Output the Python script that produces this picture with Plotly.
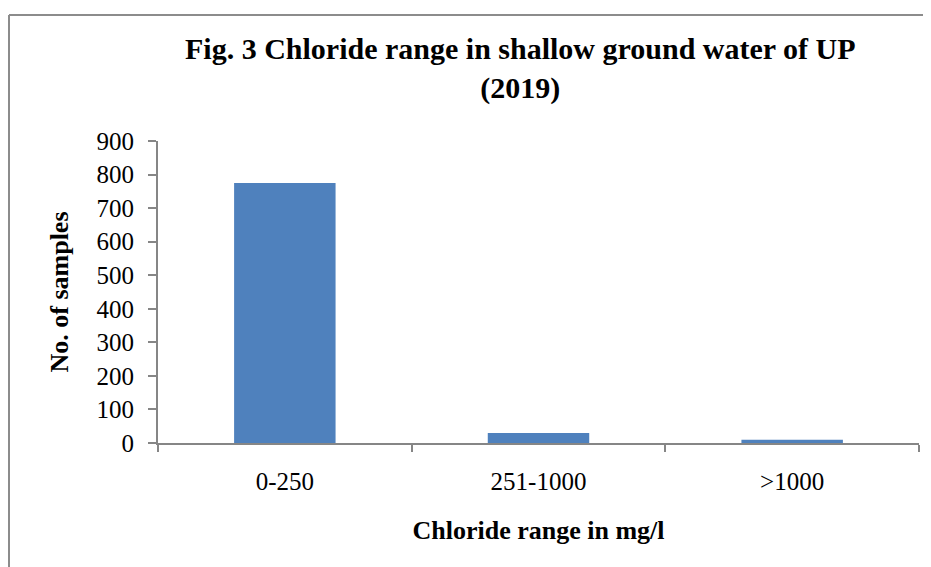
import plotly.graph_objects as go

# data
ranges = ["0-250", "251-1000", ">1000"]
samples = [775, 30, 10]
title_lines = ["Fig. 3 Chloride range in shallow ground water of UP", "(2019)"]

# page body has an 8px margin, so the figure is a bit smaller than the window
W, H = 923, 559
ml, mr, mt, mb = 150, 12, 133, 124
pw = W - ml - mr
ph = H - mt - mb

def px_x(x):
    return (x - ml) / pw

def px_y(y):
    return (H - mb - y) / ph

serif = "Liberation Serif"
axis_col = "#868686"

fig = go.Figure()
fig.add_trace(go.Bar(x=ranges, y=samples, marker_color="#4F81BD",
                     marker_line_width=0, width=0.4))

fig.update_xaxes(showline=True, linecolor=axis_col, linewidth=2,
                 ticks="outside", tickson="boundaries", ticklen=7,
                 tickcolor=axis_col, tickwidth=2, ticklabelstandoff=15,
                 tickfont=dict(family=serif, size=25, color="black"),
                 title=dict(text="<b>Chloride range in mg/l</b>",
                            font=dict(family=serif, size=26, color="black"),
                            standoff=27),
                 showgrid=False)
fig.update_yaxes(range=[0, 900], dtick=100, showline=True, linecolor=axis_col, linewidth=2,
                 ticks="outside", ticklen=8, tickcolor=axis_col, tickwidth=2,
                 ticklabelstandoff=9,
                 tickfont=dict(family=serif, size=25, color="black"),
                 title=dict(text="<b>No. of samples</b>",
                            font=dict(family=serif, size=26, color="black"),
                            standoff=20),
                 showgrid=False, zeroline=False)

# outer chart border (top and left edges visible)
border = dict(color="#8c8c8c", width=2)
fig.add_shape(type="line", xref="paper", yref="paper",
              x0=px_x(1), x1=px_x(W + 5), y0=px_y(7), y1=px_y(7), line=border)
fig.add_shape(type="line", xref="paper", yref="paper",
              x0=px_x(1), x1=px_x(1), y0=px_y(7), y1=px_y(H + 5), line=border)

# two-line chart title
fig.add_annotation(text="<b>" + "<br>".join(title_lines) + "</b>",
                   xref="paper", yref="paper",
                   x=px_x(512), y=px_y(61), xanchor="center", yanchor="middle",
                   showarrow=False,
                   font=dict(family=serif, size=30, color="black"))

fig.update_layout(
    width=W, height=H,
    margin=dict(l=ml, r=mr, t=mt, b=mb),
    paper_bgcolor="white", plot_bgcolor="white",
    showlegend=False,
)

fig.write_html("out.html")
